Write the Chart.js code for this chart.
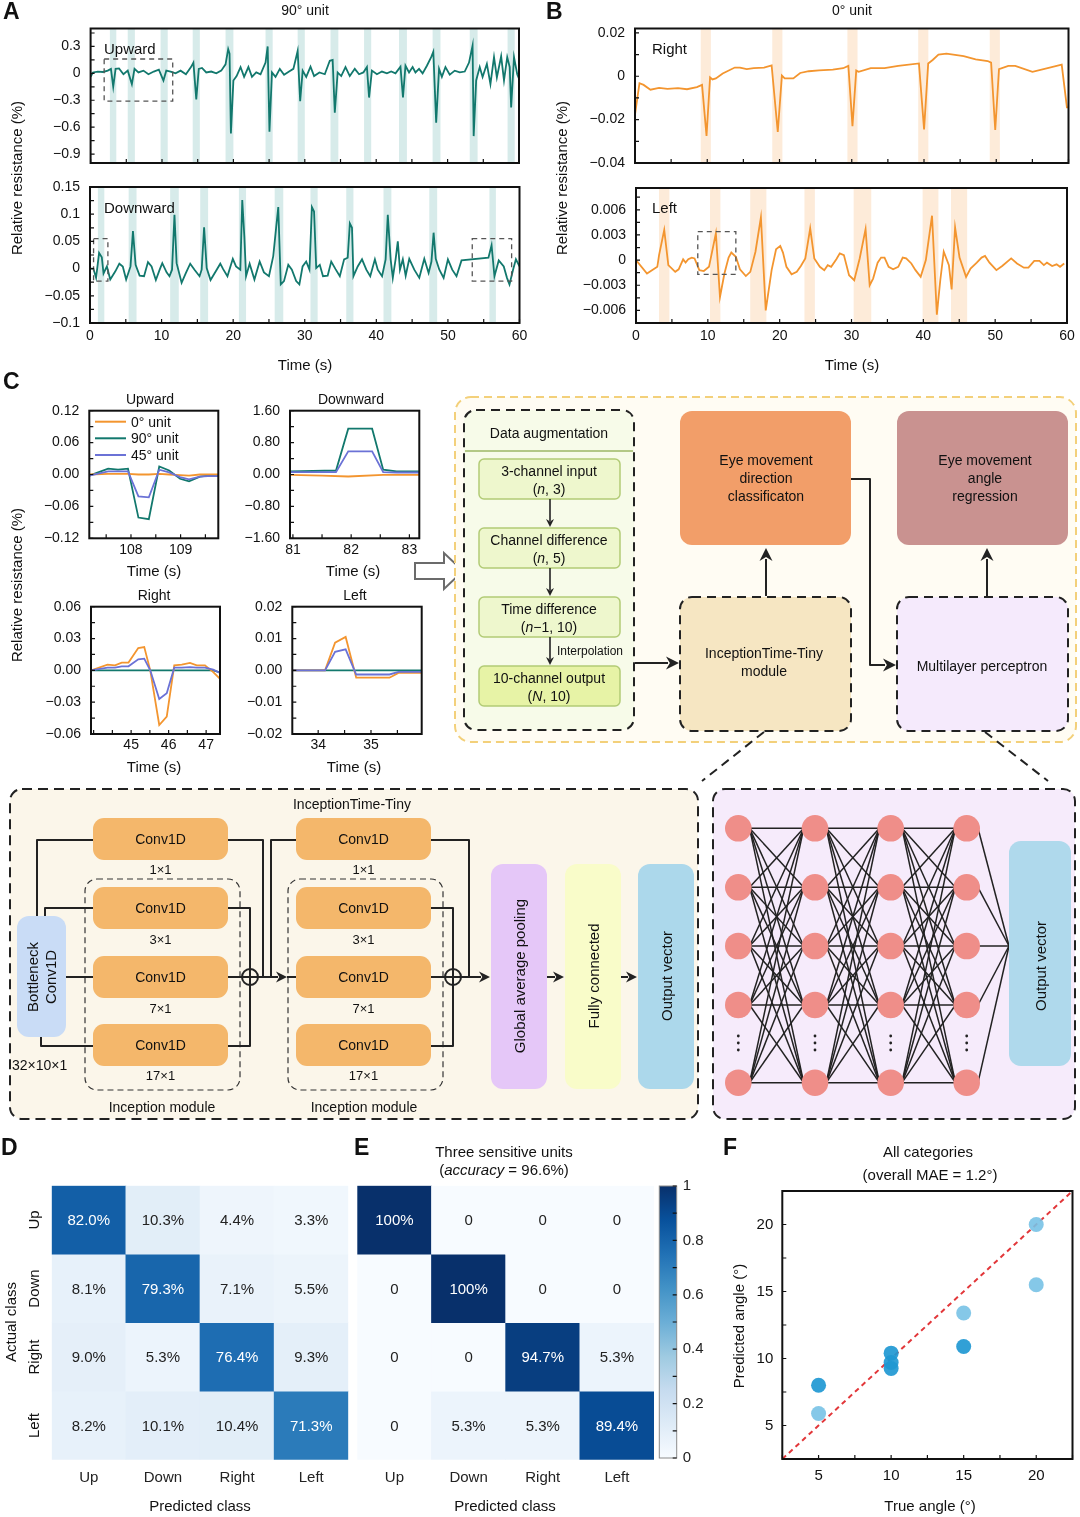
<!DOCTYPE html>
<html>
<head>
<meta charset="utf-8">
<script src="https://cdn.jsdelivr.net/npm/chart.js@4.4.1/dist/chart.umd.min.js"></script>
<style>
  body { margin: 0; width: 1080px; height: 1517px; position: relative; background: #fff; overflow: hidden;
         font-family: "Liberation Sans", Arial, sans-serif; }
  #fig { position: absolute; left: 0; top: 0; z-index: 2; pointer-events: none;
         font-family: "Liberation Sans", Arial, sans-serif; }
</style>
</head>
<body>
<svg id="fig" width="1080" height="1517" xmlns="http://www.w3.org/2000/svg"></svg>
<script>
// ---- DATA ----
// A: 90° unit, time (s) / relative resistance (%)
const upward90 = [[0,-0.04],[0.33,0.01],[1.0,0.02],[1.75,0.015],[2.4,0.03],[2.85,0.05],[3.17,-0.15],[3.5,0.05],[3.98,0.055],[4.6,-0.01],[5.2,0.03],[5.78,-0.12],[6.15,0.05],[6.7,0.01],[7.4,0.03],[8.1,-0.01],[8.85,0.02],[9.56,0.04],[10.2,-0.08],[10.6,0.03],[11.2,0.02],[11.9,0],[12.6,0.03],[13.35,-0.01],[14.06,0.07],[14.4,0.12],[14.8,-0.29],[15.15,0.05],[15.6,0.06],[16.2,0.01],[16.9,0.02],[17.6,0],[18.3,0.03],[18.9,0.1],[19.27,0.27],[19.46,0.22],[19.65,-0.67],[20.0,-0.08],[20.45,-0.03],[21.0,0.07],[21.5,-0.04],[22.1,0.07],[22.6,-0.04],[23.2,0.01],[23.8,-0.01],[24.5,0.12],[24.8,0.3],[25.05,-0.65],[25.4,0.01],[25.9,-0.04],[26.5,0.05],[27.1,-0.015],[27.8,0.02],[28.4,0.05],[29.0,0.25],[29.35,-0.31],[29.7,0.03],[30.2,-0.04],[30.8,0.075],[31.3,-0.03],[32.05,0.01],[32.8,-0.01],[33.5,0.14],[33.9,0.15],[34.2,-0.44],[34.6,0.01],[35.1,-0.03],[35.7,0.07],[36.3,-0.03],[37.0,0.05],[37.6,-0.01],[38.2,0.01],[38.7,0.07],[39.0,-0.27],[39.4,0.03],[40.1,-0.01],[40.8,0.02],[41.5,0],[42.1,0.02],[42.7,0],[43.4,0.075],[43.75,-0.27],[44.1,0.085],[44.6,0.01],[45.1,0.07],[45.5,0.01],[46.0,0.05],[46.5,0],[47.1,0.085],[47.7,0.18],[48.0,0.24],[48.4,-0.55],[48.8,0.05],[49.2,-0.04],[49.7,0.07],[50.3,-0.015],[51.0,0.03],[51.7,0.01],[52.4,0.02],[53.0,0.12],[53.5,0.31],[53.65,-0.7],[54.0,-0.08],[54.5,0.07],[54.9,-0.04],[55.5,0.105],[56.0,-0.12],[56.5,0.18],[56.9,-0.045],[57.5,0.19],[57.9,-0.08],[58.35,0.18],[58.7,0.07],[58.9,-0.38],[59.3,0.18],[59.75,-0.01],[60,-0.06]]
const downward90 = [[0,0],[0.47,0],[0.85,-0.017],[1.27,0.029],[1.65,0.021],[1.89,-0.009],[2.36,0.004],[2.83,-0.02],[3.54,-0.005],[4.1,0.009],[4.58,0.004],[5.05,-0.02],[5.66,0.004],[6.0,0.069],[6.37,0.007],[6.93,-0.013],[7.55,-0.014],[8.1,0.012],[8.6,0.004],[9.2,-0.021],[9.76,-0.001],[10.1,0.01],[10.7,-0.007],[11.1,-0.014],[11.46,-0.002],[11.8,0.099],[12.1,0.01],[12.8,-0.026],[13.4,-0.008],[14.0,0.009],[14.6,-0.002],[15.3,-0.014],[15.6,-0.002],[15.94,0.076],[16.3,0.001],[16.84,-0.021],[17.7,-0.002],[18.2,0.009],[18.6,-0.001],[19.2,-0.014],[19.95,0.018],[20.4,0.004],[21.0,-0.002],[21.27,0.126],[21.56,0.059],[21.8,-0.014],[22.3,0.009],[22.97,-0.02],[23.7,0.013],[24.3,-0.007],[25.0,-0.014],[25.6,0.023],[26.0,0.075],[26.3,0.113],[26.65,-0.029],[27.1,-0.023],[27.7,0.007],[28.2,-0.002],[28.8,-0.023],[29.25,-0.029],[29.7,0.004],[30.2,0.013],[30.66,-0.002],[31.0,0.113],[31.3,0.105],[31.6,0.001],[32.1,0.007],[32.55,-0.014],[33.2,-0.013],[33.7,0.013],[34.3,-0.001],[34.9,-0.014],[35.5,0.017],[36.0,0.02],[36.3,0.083],[36.6,0.075],[36.8,-0.014],[37.4,0.004],[38.0,0.017],[38.6,-0.002],[39.15,-0.014],[39.8,0.017],[40.2,-0.002],[40.8,-0.014],[41.3,0.017],[41.6,0.099],[42.0,0.017],[42.3,-0.017],[42.7,0.018],[43.0,0.05],[43.3,-0.002],[43.7,0.017],[44.1,-0.013],[44.6,0.018],[45.3,-0.002],[46.0,-0.017],[46.7,0.018],[47.3,-0.008],[47.7,0.013],[48.0,0.066],[48.3,0.018],[48.8,-0.002],[49.4,-0.017],[50.0,0.017],[50.6,-0.002],[51.2,-0.014],[51.9,0.015],[55.66,0.02],[56.1,0.043],[56.5,-0.014],[57.1,0.015],[57.8,0.004],[58.25,-0.017],[58.6,-0.029],[59.1,-0.002],[59.5,0.017],[60,0.004]]
const bandsUp = [[2.7,3.6],[5.2,6.2],[9.8,10.8],[14.3,15.3],[18.9,20.0],[24.5,25.5],[29.0,30.0],[33.6,34.7],[38.3,39.3],[43.2,44.3],[47.9,49.0],[53.1,54.2],[58.4,59.4]]
const bandsDown = [[1.1,2.0],[5.4,6.5],[11.2,12.4],[15.4,16.5],[20.8,21.8],[25.8,27.0],[30.8,31.8],[35.8,36.8],[41.0,42.1],[47.4,48.5],[55.8,56.7]]
const boxesUp = [[1.9,11.5,-0.31,0.16]]
const boxesDown = [[0.5,2.5,-0.023,0.055],[53.4,58.9,-0.023,0.055]]

// B: 0° unit
const right0 = [[0,-0.0177],[0.62,-0.0032],[1.19,-0.004],[2.14,-0.0062],[3.33,-0.0054],[4.5,-0.0058],[5.95,-0.0055],[7.2,-0.006],[8.57,-0.005],[9.28,-0.004],[9.9,-0.0275],[10.39,-0.0005],[10.72,-0.0015],[11.19,-0.001],[12.14,0.0013],[13.81,0.004],[14.52,0.004],[15.47,0.0033],[16.43,0.0037],[17.86,0.004],[18.91,0.005],[19.76,-0.0257],[20.33,0.0003],[20.72,-0.001],[21.91,-0.001],[22.86,0.0015],[24.05,0.0023],[25.47,0.0027],[27.38,0.003],[28.81,0.0037],[29.53,0.0048],[30.1,-0.023],[30.62,0.0026],[30.95,0.002],[32.63,0.0037],[34.54,0.0037],[36.43,0.0048],[39.3,0.0059],[40.01,-0.0245],[40.58,0.0059],[41.2,0.0075],[42.0,0.01],[43.1,0.0104],[45.49,0.0093],[47.15,0.0078],[48.82,0.007],[49.29,0.0063],[49.86,-0.0248],[50.38,0.0033],[51.67,0.0048],[52.63,0.0048],[55.01,0.002],[57.39,0.004],[59.06,0.0053],[59.78,-0.0144],[60,-0.0144]]
const left0 = [[0,0],[1.53,-0.0016],[2.97,-0.0008],[3.21,0.0006],[3.93,0.0036],[4.5,-0.0006],[5.46,-0.0014],[5.94,-0.0011],[6.56,0.0001],[6.9,-0.0003],[7.28,0.0001],[7.76,0.0003],[8.15,0.0002],[8.82,-0.0012],[9.44,-0.0013],[10.16,-0.0008],[11.12,0.0032],[11.69,-0.0044],[12.31,-0.0016],[12.89,0.0003],[13.27,0.0009],[13.9,0.0004],[14.47,-0.0011],[15.29,-0.0019],[15.91,-0.0014],[16.63,0.001],[17.39,0.0051],[18.06,-0.006],[18.88,-0.0012],[19.5,0.0013],[20.08,0.0017],[20.46,0.0009],[20.94,-0.0008],[21.66,-0.0017],[22.38,-0.0014],[22.95,-0.0007],[23.57,0.0002],[24.25,0.0038],[24.82,0.0002],[25.59,-0.0008],[26.21,-0.0012],[26.69,-0.0006],[27.17,-0.0008],[27.89,0.0001],[28.37,0.0008],[28.94,0.0006],[29.66,-0.0018],[30.38,-0.0024],[31.14,0.0002],[31.96,0.0037],[32.53,-0.003],[33.01,-0.0022],[33.64,-0.0003],[34.12,0.0003],[34.6,0.0003],[35.17,-0.0008],[35.79,-0.0011],[36.51,-0.0008],[37.13,0.0003],[37.61,0.0002],[38.33,-0.0004],[38.91,-0.0012],[39.63,-0.002],[40.35,0],[41.21,0.0053],[41.88,-0.0065],[42.36,-0.0024],[42.84,0.001],[43.56,-0.0006],[43.94,-0.0035],[44.42,0.0039],[45.04,0.0003],[45.95,-0.002],[46.57,-0.001],[47.44,-0.0003],[48.11,0.0003],[48.59,0.0005],[49.21,-0.0003],[50.17,-0.0012],[50.98,-0.0007],[52.23,0.0002],[53.04,-0.0004],[54.0,-0.0009],[54.63,-0.0009],[55.44,-0.0001],[56.16,-0.0001],[56.78,-0.0006],[57.21,-0.0003],[57.93,-0.0007],[58.55,-0.0005],[59.03,-0.0008],[59.61,-0.0004]]
const bandsRight = [[9.1,10.5],[19.0,20.4],[29.4,30.8],[39.2,40.6],[49.1,50.5]]
const bandsLeft = [[3.2,4.65],[10.3,11.75],[15.9,18.15],[23.45,24.9],[30.3,32.75],[39.9,42.1],[43.85,46.1]]
const boxesLeft = [[8.6,13.9,-0.0017,0.0034]]

// C: zoomed single movements, three units
const upw0 = [[107.16,0],[107.54,0.001],[107.74,0.001],[107.94,0.001],[108.15,0],[108.36,0],[108.57,0.001],[108.77,0],[108.99,-0.001],[109.17,-0.002],[109.39,0],[109.55,0],[109.76,0]]
const upw90 = [[107.16,-0.002],[107.54,0.011],[107.74,0.009],[107.94,0.011],[108.15,-0.081],[108.36,-0.084],[108.57,0.015],[108.77,0.0076],[108.99,-0.008],[109.17,-0.013],[109.39,-0.004],[109.55,-0.002],[109.76,-0.003]]
const upw45 = [[107.16,-0.002],[107.54,0.006],[107.74,0.006],[107.94,0.006],[108.15,-0.041],[108.36,-0.043],[108.57,0.009],[108.77,0.004],[108.99,-0.005],[109.17,-0.009],[109.39,-0.004],[109.55,-0.003],[109.76,-0.003]]
const dwn0 = [[80.95,-0.01],[81.5,-0.03],[81.95,-0.05],[82.55,-0.01],[83.17,-0.01]]
const dwn90 = [[80.95,0.08],[81.74,0.1],[81.95,1.15],[82.36,1.15],[82.55,0.12],[82.78,0.08],[83.17,0.08]]
const dwn45 = [[80.95,0.06],[81.74,0.06],[81.95,0.58],[82.36,0.58],[82.55,0.06],[82.78,0.05],[83.17,0.05]]
const rgt0 = [[43.93,0],[44.37,0.0054],[44.57,0.0047],[44.75,0.0073],[44.93,0.0073],[45.19,0.021],[45.35,0.022],[45.51,0],[45.75,-0.0515],[45.95,-0.0436],[46.15,0.0047],[46.35,0.0054],[46.57,0.007],[46.75,0.0047],[46.97,0.0047],[47.19,-0.0016],[47.37,-0.008]]
const rgt45 = [[43.93,0],[44.37,0.0025],[44.57,0.0025],[44.75,0.0038],[44.93,0.0038],[45.19,0.0104],[45.35,0.011],[45.51,0],[45.75,-0.027],[45.95,-0.0215],[46.15,0.0025],[46.35,0.0025],[46.57,0.003],[46.75,0.0025],[46.97,0.0025],[47.19,0.0006],[47.37,-0.0025]]
const rgt90 = [[43.93,0],[47.19,0],[47.37,-0.002]]
const lft0 = [[33.51,0],[34.13,0],[34.32,0.0087],[34.52,0.0105],[34.72,-0.0023],[34.92,-0.0023],[35.35,-0.0023],[35.52,-0.0008],[35.96,-0.0008]]
const lft45 = [[33.51,0],[34.13,0],[34.32,0.0058],[34.52,0.0066],[34.72,-0.0013],[35.35,-0.0013],[35.52,-0.0005],[35.96,-0.0005]]
const lft90 = [[33.51,0],[35.96,0]]

// D / E: confusion matrices (%), rows = actual, cols = predicted
const classes = ['Up', 'Down', 'Right', 'Left']
const confAll = [[82.0,10.3,4.4,3.3],[8.1,79.3,7.1,5.5],[9.0,5.3,76.4,9.3],[8.2,10.1,10.4,71.3]]
const confThree = [[100,0,0,0],[0,100,0,0],[0,0,94.7,5.3],[0,5.3,5.3,89.4]]
const cbarTicks = [0,0.1,0.2,0.3,0.4,0.5,0.6,0.7,0.8,0.9,1]
const cbarLabels = [0,0.2,0.4,0.6,0.8,1]

// F: angle regression
const predSingle = [[5,5.9],[15,13.4],[20,20.0],[20,15.5]]
const predStacked = [[5,8.0],[10,10.4],[10,9.7],[10,9.25],[15,10.9]]
const angleTicks = [2.5,5,7.5,10,12.5,15,17.5,20,22.5]
const angleLabels = [5,10,15,20]

// ---- tick arrays ----
const tSec = [0,5,10,15,20,25,30,35,40,45,50,55,60]
const tSecLab = [0,10,20,30,40,50,60]

// ---- ESTILOS ----
const FONT = '"Liberation Sans", Arial, sans-serif'
const TEAL = '#12786d', ORANGE = '#f3952f', VIOLET = '#6b72d6'
const BLUES = ['#f7fbff','#deebf7','#c6dbef','#9ecae1','#6baed6','#4292c6','#2171b5','#08519c','#08306b']
Chart.defaults.font.family = FONT
Chart.defaults.font.size = 14
Chart.defaults.color = '#111'

function blues(t) {
  t = Math.max(0, Math.min(1, t))
  const p = t * (BLUES.length - 1), i = Math.min(Math.floor(p), BLUES.length - 2), f = p - i
  const a = BLUES[i], b = BLUES[i + 1]
  const c = k => Math.round(parseInt(a.substr(k, 2), 16) * (1 - f) + parseInt(b.substr(k, 2), 16) * f)
  return `rgb(${c(1)},${c(3)},${c(5)})`
}
const xy = arr => arr.map(([x, y]) => ({x, y}))
const minus = s => s.replace('-', '\u2212')
const near = (list, v) => list.some(m => Math.abs(m - v) < 1e-9)

// ---- canvas helper ----
function mkCanvas(l, t, r, b) {
  const c = document.createElement('canvas')
  c.width = r - l; c.height = b - t
  c.style.cssText = `position:absolute;left:${l}px;top:${t}px;width:${r - l}px;height:${b - t}px;z-index:1`
  document.body.appendChild(c)
  return c
}

// ---- plugin: bands, dashed boxes, frame, inner ticks, cell labels ----
function deco(o) {
  return {
    id: 'deco',
    beforeDatasetsDraw(chart) {
      if (!o.bands) return
      const {ctx, chartArea: a, scales: {x}} = chart
      ctx.save()
      ctx.fillStyle = o.bandColor
      o.bands.forEach(([s, e]) => {
        const x0 = x.getPixelForValue(s), x1 = x.getPixelForValue(e)
        ctx.fillRect(x0, a.top, x1 - x0, a.bottom - a.top)
      })
      ctx.restore()
    },
    afterDatasetsDraw(chart) {
      const {ctx, scales: {x, y}} = chart
      ctx.save()
      ;(o.boxes || []).forEach(([x0, x1, y0, y1]) => {
        ctx.strokeStyle = '#555'; ctx.lineWidth = 1.3; ctx.setLineDash([5, 4])
        const px0 = x.getPixelForValue(x0), px1 = x.getPixelForValue(x1)
        const py0 = y.getPixelForValue(y0), py1 = y.getPixelForValue(y1)
        ctx.strokeRect(px0, py1, px1 - px0, py0 - py1)
      })
      if (o.cells) {
        ctx.setLineDash([])
        ctx.font = '15px ' + FONT
        ctx.textAlign = 'center'; ctx.textBaseline = 'middle'
        o.cells.forEach((row, r) => {
          chart.getDatasetMeta(r).data.forEach((bar, c) => {
            const v = row[c]
            ctx.fillStyle = v > 50 ? '#fff' : '#222'
            ctx.fillText(o.fmt(v), bar.x, (bar.y + bar.base) / 2 + 1)
          })
        })
      }
      ctx.restore()
    },
    afterDraw(chart) {
      if (!o.frame) return
      const {ctx, chartArea: a, scales: {x, y}} = chart
      ctx.save()
      ctx.strokeStyle = o.frame; ctx.lineWidth = o.frameWidth || 2
      ctx.strokeRect(a.left, a.top, a.right - a.left, a.bottom - a.top)
      ctx.lineWidth = 1.2; ctx.strokeStyle = '#111'
      ctx.beginPath()
      if (o.xTicks) x.ticks.forEach(t => {
        const p = x.getPixelForValue(t.value)
        ctx.moveTo(p, a.bottom); ctx.lineTo(p, a.bottom - 4)
      })
      if (o.yTicks) y.ticks.forEach(t => {
        const p = y.getPixelForValue(t.value)
        const e = o.yTicks === 'right' ? a.right : a.left, d = o.yTicks === 'right' ? -4 : 4
        ctx.moveTo(e, p); ctx.lineTo(e + d, p)
      })
      ctx.stroke()
      ctx.restore()
    }
  }
}

// ---- linear axis ----
function linAxis(min, max, ticks, major, fmt, show, pad, size) {
  return {
    type: 'linear', min, max,
    grid: {display: false, drawTicks: false}, border: {display: false},
    afterBuildTicks: s => { s.ticks = ticks.map(v => ({value: v})) },
    ticks: {display: show, padding: pad, autoSkip: false, maxRotation: 0, minRotation: 0,
            font: {size: size || 14}, callback: v => near(major, v) ? fmt(v) : ''}
  }
}

// ---- generic chart at fixed plot area ----
function plot(box, area, cfg) {
  const [bl, bt, br, bb] = box, [al, at, ar, ab] = area
  return new Chart(mkCanvas(bl, bt, br, bb), {
    type: cfg.type || 'line',
    data: {labels: cfg.labels, datasets: cfg.datasets},
    options: {
      responsive: false, animation: false, events: [],
      layout: {padding: {left: 0, top: at - bt, right: br - ar, bottom: 0}},
      plugins: {legend: {display: false}, tooltip: {enabled: false}},
      scales: {
        x: {...cfg.x, afterFit: s => { s.height = bb - ab; s.paddingLeft = 0; s.paddingRight = 0 }},
        y: {...cfg.y, afterFit: s => { s.width = al - bl; s.paddingTop = 0; s.paddingBottom = 0 }}
      }
    },
    plugins: [deco(cfg.deco || {})]
  })
}
const lineDs = (pts, color, w) => ({data: xy(pts), borderColor: color, borderWidth: w || 1.8, pointRadius: 0, tension: 0, fill: false})

const fmtA = v => minus(String(+v.toFixed(4)))
const fmt2 = v => minus(v.toFixed(2))
const fmtInt = v => String(v)

// ---- PANEL A ----
plot([40, 20, 526, 170], [90.6, 28.5, 519, 163], {
  datasets: [lineDs(upward90, TEAL)],
  x: linAxis(0, 60, tSec, tSecLab, fmtInt, false, 5),
  y: linAxis(-1.0, 0.5, [-0.9,-0.75,-0.6,-0.45,-0.3,-0.15,0,0.15,0.3,0.45], [-0.9,-0.6,-0.3,0,0.3], fmtA, true, 10),
  deco: {bands: bandsUp, bandColor: '#d7ebea', boxes: boxesUp, frame: '#111', xTicks: true, yTicks: 'left'}
})
plot([40, 180, 530, 352], [90, 187, 519.5, 323], {
  datasets: [lineDs(downward90, TEAL)],
  x: linAxis(0, 60, tSec, tSecLab, fmtInt, true, 5),
  y: linAxis(-0.1, 0.15, [-0.1,-0.075,-0.05,-0.025,0,0.025,0.05,0.075,0.1,0.125,0.15], [-0.1,-0.05,0,0.05,0.1,0.15], fmtA, true, 10),
  deco: {bands: bandsDown, bandColor: '#d7ebea', boxes: boxesDown, frame: '#111', xTicks: true, yTicks: 'left'}
})

// ---- PANEL B ----
plot([575, 20, 1076, 170], [635, 28.5, 1068.5, 163], {
  datasets: [lineDs(right0, ORANGE)],
  x: linAxis(0, 60, tSec, tSecLab, fmtInt, false, 5),
  y: linAxis(-0.04, 0.022, [-0.04,-0.03,-0.02,-0.01,0,0.01,0.02], [-0.04,-0.02,0,0.02], fmtA, true, 10),
  deco: {bands: bandsRight, bandColor: '#fdebd9', frame: '#111', xTicks: true, yTicks: 'left'}
})
plot([575, 180, 1078, 352], [636, 188, 1067, 323], {
  datasets: [lineDs(left0, ORANGE)],
  x: linAxis(0, 60, tSec, tSecLab, fmtInt, true, 5),
  y: linAxis(-0.0075, 0.0086, [-0.0075,-0.006,-0.0045,-0.003,-0.0015,0,0.0015,0.003,0.0045,0.006,0.0075], [-0.006,-0.003,0,0.003,0.006], fmtA, true, 10),
  deco: {bands: bandsLeft, bandColor: '#fdebd9', boxes: boxesLeft, frame: '#111', xTicks: true, yTicks: 'left'}
})

// ---- PANEL C (small plots) ----
const cFrame = {frame: '#111', xTicks: true, yTicks: 'left'}
plot([40, 400, 226, 562], [89.3, 410.7, 218.3, 538.3], {
  datasets: [lineDs(upw45, VIOLET), lineDs(upw0, ORANGE), lineDs(upw90, TEAL)],
  x: linAxis(107.16, 109.76, [107.5,108,108.5,109,109.5], [108,109], fmtInt, true, 3),
  y: linAxis(-0.12, 0.12, [-0.12,-0.09,-0.06,-0.03,0,0.03,0.06,0.09,0.12], [-0.12,-0.06,0,0.06,0.12], fmt2, true, 10),
  deco: cFrame
})
plot([240, 400, 428, 562], [290, 410.7, 419.3, 538.3], {
  datasets: [lineDs(dwn45, VIOLET), lineDs(dwn0, ORANGE), lineDs(dwn90, TEAL)],
  x: linAxis(80.95, 83.17, [81,81.5,82,82.5,83], [81,82,83], fmtInt, true, 3),
  y: linAxis(-1.6, 1.6, [-1.6,-1.2,-0.8,-0.4,0,0.4,0.8,1.2,1.6], [-1.6,-0.8,0,0.8,1.6], fmt2, true, 10),
  deco: cFrame
})
plot([40, 596, 228, 758], [91, 606.7, 220, 734], {
  datasets: [lineDs(rgt45, VIOLET), lineDs(rgt0, ORANGE), lineDs(rgt90, TEAL)],
  x: linAxis(43.93, 47.37, [44,44.5,45,45.5,46,46.5,47], [45,46,47], fmtInt, true, 3),
  y: linAxis(-0.06, 0.06, [-0.06,-0.045,-0.03,-0.015,0,0.015,0.03,0.045,0.06], [-0.06,-0.03,0,0.03,0.06], fmt2, true, 10),
  deco: cFrame
})
plot([240, 596, 432, 758], [292.3, 606.7, 421.7, 734], {
  datasets: [lineDs(lft45, VIOLET), lineDs(lft0, ORANGE), lineDs(lft90, TEAL)],
  x: linAxis(33.51, 35.96, [34,34.5,35,35.5], [34,35], fmtInt, true, 3),
  y: linAxis(-0.02, 0.02, [-0.02,-0.015,-0.01,-0.005,0,0.005,0.01,0.015,0.02], [-0.02,-0.01,0,0.01,0.02], fmt2, true, 10),
  deco: cFrame
})

// ---- PANEL D / E heatmaps ----
function heat(box, area, conf, fmt) {
  plot(box, area, {
    type: 'bar', labels: classes,
    datasets: conf.map((row, r) => ({
      data: row.map(() => [r, r + 1]),
      backgroundColor: row.map(v => blues(v / 100)),
      borderWidth: 0, grouped: false, barPercentage: 1, categoryPercentage: 1
    })),
    x: {type: 'category', offset: true, grid: {display: false, drawTicks: false}, border: {display: false},
        ticks: {padding: 9, font: {size: 15}, color: '#222'}},
    y: {type: 'linear', min: 0, max: 4, reverse: true, grid: {display: false, drawTicks: false},
        border: {display: false}, ticks: {display: false}},
    deco: {cells: conf, fmt}
  })
}
heat([40, 1176, 352, 1500], [51.7, 1185.7, 348.3, 1459.7], confAll, v => v.toFixed(1) + '%')
heat([352, 1176, 656, 1500], [357.3, 1185.7, 654, 1459.7], confThree,
     v => v === 0 ? '0' : v === 100 ? '100%' : v.toFixed(1) + '%')

// colorbar
new Chart(mkCanvas(654, 1176, 712, 1472), {
  type: 'bar',
  data: {labels: [''], datasets: [{
    data: [[0, 1]], barPercentage: 1, categoryPercentage: 1, borderWidth: 0,
    backgroundColor: c => {
      const a = c.chart.chartArea
      if (!a) return BLUES[4]
      const g = c.chart.ctx.createLinearGradient(0, a.bottom, 0, a.top)
      BLUES.forEach((col, i) => g.addColorStop(i / (BLUES.length - 1), col))
      return g
    }
  }]},
  options: {
    responsive: false, animation: false, events: [],
    layout: {padding: {left: 5.3, top: 10, right: 0, bottom: 14}},
    plugins: {legend: {display: false}, tooltip: {enabled: false}},
    scales: {
      x: {display: false},
      y: {position: 'right', min: 0, max: 1, grid: {display: false, drawTicks: false}, border: {display: false},
          afterBuildTicks: s => { s.ticks = cbarTicks.map(v => ({value: v})) },
          ticks: {padding: 6, autoSkip: false, font: {size: 15}, color: '#222',
                  callback: v => near(cbarLabels, v) ? String(+v.toFixed(1)) : ''},
          afterFit: s => { s.width = 712 - 676.7; s.paddingTop = 0; s.paddingBottom = 0 }}
    }
  },
  plugins: [deco({frame: '#8a8a8a', frameWidth: 1, yTicks: 'right'})]
})

// ---- PANEL F ----
plot([740, 1180, 1080, 1495], [782.3, 1191, 1076.7, 1459], {
  type: 'scatter',
  datasets: [
    {data: xy(predStacked), backgroundColor: 'rgba(32,152,210,0.92)', pointRadius: 7.5, borderWidth: 0},
    {data: xy(predSingle), backgroundColor: 'rgba(120,194,230,0.9)', pointRadius: 7.5, borderWidth: 0},
    {type: 'line', data: xy([[2.5,2.5],[22.5,22.5]]), borderColor: '#e2373a', borderWidth: 2,
     borderDash: [5, 4], pointRadius: 0, showLine: true, fill: false}
  ],
  x: linAxis(2.5, 22.5, angleTicks, angleLabels, fmtInt, true, 8, 15),
  y: linAxis(2.5, 22.5, angleTicks, angleLabels, fmtInt, true, 9, 15),
  deco: {frame: '#111', xTicks: true, yTicks: 'left'}
})

// ---- SVG: texts and diagrams ----
const NS = 'http://www.w3.org/2000/svg'
const svg = document.getElementById('fig')
function el(tag, attrs, html) {
  const e = document.createElementNS(NS, tag)
  for (const k in attrs) e.setAttribute(k, attrs[k])
  if (html !== undefined) e.innerHTML = html
  svg.appendChild(e)
  return e
}
function txt(x, y, s, o = {}) {
  const a = {x, y, 'font-size': o.size || 14, 'text-anchor': o.anchor || 'middle',
             'dominant-baseline': 'central', fill: o.fill || '#111'}
  if (o.weight) a['font-weight'] = o.weight
  if (o.rot) a.transform = `rotate(${o.rot} ${x} ${y})`
  return el('text', a, s)
}
const pts = p => p.map(q => q.join(',')).join(' ')
function pline(p, o = {}) {
  el('polyline', {points: pts(p), fill: 'none', stroke: o.stroke || '#222', 'stroke-width': o.w || 2,
                  'stroke-dasharray': o.dash || 'none', 'stroke-linejoin': 'round'})
}
function arrow(p, head = 10, w = 2) {
  const n = p.length, [xa, ya] = p[n - 2], [xb, yb] = p[n - 1]
  const ang = Math.atan2(yb - ya, xb - xa), c = Math.cos(ang), s = Math.sin(ang)
  const bx = xb - head * c, by = yb - head * s
  pline(p.slice(0, n - 1).concat([[bx + 2 * c, by + 2 * s]]), {w})
  const hw = head * 0.5
  el('polygon', {points: pts([[xb, yb], [bx - hw * s, by + hw * c], [xb - head * 0.7 * c, yb - head * 0.7 * s], [bx + hw * s, by - hw * c]]), fill: '#222'})
}
function rect(x, y, w, h, o = {}) {
  el('rect', {x, y, width: w, height: h, rx: o.rx === undefined ? 10 : o.rx, fill: o.fill || 'none',
              stroke: o.stroke || 'none', 'stroke-width': o.w || 2, 'stroke-dasharray': o.dash || 'none'})
}

// panel letters
;[['A', 3, 11], ['B', 546, 11], ['C', 3, 381], ['D', 1, 1147], ['E', 354, 1147], ['F', 723, 1147]]
  .forEach(([s, x, y]) => txt(x, y, s, {size: 23, weight: 'bold', anchor: 'start'}))

// A / B labels
txt(305, 10, '90° unit')
txt(852, 10, '0° unit')
txt(104, 48, 'Upward', {size: 15, anchor: 'start'})
txt(104, 207, 'Downward', {size: 15, anchor: 'start'})
txt(652, 48, 'Right', {size: 15, anchor: 'start'})
txt(652, 207, 'Left', {size: 15, anchor: 'start'})
txt(305, 364, 'Time (s)', {size: 15})
txt(852, 364, 'Time (s)', {size: 15})
txt(16, 178, 'Relative resistance (%)', {size: 15, rot: -90})
txt(561, 178, 'Relative resistance (%)', {size: 15, rot: -90})

// C small plot labels
txt(150, 399, 'Upward'); txt(351, 399, 'Downward'); txt(154, 595, 'Right'); txt(355, 595, 'Left')
txt(154, 570, 'Time (s)', {size: 15}); txt(353, 570, 'Time (s)', {size: 15})
txt(154, 766, 'Time (s)', {size: 15}); txt(354, 766, 'Time (s)', {size: 15})
txt(16, 585, 'Relative resistance (%)', {size: 15, rot: -90})
;[[ORANGE, '0° unit', 421.7], [TEAL, '90° unit', 438.3], [VIOLET, '45° unit', 455]].forEach(([c, s, y]) => {
  pline([[95, y], [126, y]], {stroke: c, w: 2})
  txt(131, y, s, {anchor: 'start'})
})
// hollow arrow
el('path', {d: 'M415,563 H444 V553 L463,571 L444,589 V579 H415 Z', fill: '#fff', stroke: '#6b6b6b', 'stroke-width': 2})

// flowchart
rect(455, 397, 621, 345, {rx: 16, fill: '#fffcf3', stroke: '#f3d07a', dash: '8 5'})
rect(464, 410, 170, 320, {rx: 12, fill: '#f7fbe9', stroke: '#222', dash: '9 6'})
txt(549, 433, 'Data augmentation')
pline([[465, 451], [633, 451]], {stroke: '#b3c886', w: 2})
const augBoxes = [[459, '3-channel input', '(<tspan font-style="italic">n</tspan>, 3)', '#eef7cd'],
                  [528, 'Channel difference', '(<tspan font-style="italic">n</tspan>, 5)', '#eef7cd'],
                  [597, 'Time difference', '(<tspan font-style="italic">n</tspan>\u22121, 10)', '#eef7cd'],
                  [666, '10-channel output', '(<tspan font-style="italic">N</tspan>, 10)', '#e7f3a6']]
augBoxes.forEach(([y, a, b, f]) => {
  rect(479, y, 141, 40, {rx: 5, fill: f, stroke: '#b2cb76', w: 1.5})
  txt(549, y + 12, a); txt(549, y + 30, b)
})
arrow([[550, 499], [550, 527]], 8, 1.6)
arrow([[550, 568], [550, 596]], 8, 1.6)
arrow([[550, 637], [550, 665]], 8, 1.6)
txt(557, 651, 'Interpolation', {size: 12, anchor: 'start'})
arrow([[635, 663], [679, 663]], 13)
rect(680, 411, 171, 134, {rx: 12, fill: '#f29e69'})
txt(766, 460, 'Eye movement'); txt(766, 478, 'direction'); txt(766, 496, 'classificaton')
rect(897, 411, 171, 134, {rx: 12, fill: '#c99290'})
txt(985, 460, 'Eye movement'); txt(985, 478, 'angle'); txt(985, 496, 'regression')
rect(680, 597, 171, 134, {rx: 12, fill: '#f6e6c2', stroke: '#222', dash: '9 6'})
txt(764, 653, 'InceptionTime-Tiny'); txt(764, 671, 'module')
rect(897, 597, 171, 134, {rx: 12, fill: '#f5eafc', stroke: '#222', dash: '9 6'})
txt(982, 666, 'Multilayer perceptron')
arrow([[766, 596], [766, 548]], 13)
arrow([[987, 596], [987, 548]], 13)
arrow([[851, 479], [870, 479], [870, 665], [896, 665]], 13)
pline([[764, 732], [702, 781]], {dash: '9 6'})
pline([[985, 732], [1048, 781]], {dash: '9 6'})

// InceptionTime-Tiny
rect(10, 789, 688, 330, {rx: 12, fill: '#fbf6ea', stroke: '#222', dash: '10 6'})
txt(352, 804, 'InceptionTime-Tiny')
const convRows = [[818, '1\u00d71', 869], [887, '3\u00d71', 939], [956, '7\u00d71', 1008], [1024, '17\u00d71', 1075]]
;[85, 288].forEach(mx => rect(mx, 879, 155, 211, {rx: 12, stroke: '#333', w: 1.2, dash: '6 4'}))
;[93, 296].forEach(cx => convRows.forEach(([y, s, ly]) => {
  rect(cx, y, 135, 42, {rx: 11, fill: '#f4b76b'})
  txt(cx + 67.5, y + 21, 'Conv1D')
  txt(cx + 67.5, ly, s, {size: 13})
}))
txt(162, 1107, 'Inception module'); txt(364, 1107, 'Inception module')
rect(17, 916, 49, 121, {rx: 12, fill: '#c9dcf6'})
txt(32, 977, 'Bottleneck', {size: 15, rot: -90}); txt(50, 977, 'Conv1D', {size: 15, rot: -90})
txt(12, 1065, '32\u00d710\u00d71', {anchor: 'start'})
pline([[37, 916], [37, 840], [93, 840]]); pline([[45, 916], [45, 908], [93, 908]])
pline([[66, 977], [93, 977]]); pline([[41, 1037], [41, 1046], [93, 1046]])
function merge(cx, px, topx) {
  pline([[cx + 135, 840], [topx, 840], [topx, 977]])
  pline([[cx + 135, 908], [px, 908], [px, 969]])
  pline([[cx + 135, 1046], [px, 1046], [px, 985]])
  pline([[cx + 135, 977], [px - 8, 977]])
  el('circle', {cx: px, cy: 977, r: 8, fill: 'none', stroke: '#222', 'stroke-width': 2})
  pline([[px - 8, 977], [px + 8, 977]]); pline([[px, 969], [px, 985]])
}
merge(93, 250, 263); merge(296, 453, 469)
arrow([[258, 977], [287, 977]], 11); pline([[287, 977], [296, 977]])
pline([[271, 977], [271, 840], [296, 840]])
arrow([[461, 977], [490, 977]], 11)
arrow([[547, 977], [564, 977]], 11)
arrow([[621, 977], [637, 977]], 11)
rect(491, 864, 56, 225, {rx: 12, fill: '#e5c7f8'}); txt(519, 976, 'Global average pooling', {size: 15, rot: -90})
rect(565, 864, 56, 225, {rx: 12, fill: '#f9fcc9'}); txt(593, 976, 'Fully connected', {size: 15, rot: -90})
rect(638, 864, 56, 225, {rx: 12, fill: '#acd8eb'}); txt(666, 976, 'Output vector', {size: 15, rot: -90})

// multilayer perceptron
rect(713, 789, 362, 330, {rx: 12, fill: '#f6ebfb', stroke: '#222', dash: '10 6'})
const nodeX = [738.3, 815, 890.7, 966.7], nodeY = [828.3, 887.3, 946, 1005, 1082.7], R = 13.3
for (let i = 0; i < 3; i++) nodeY.forEach(ya => nodeY.forEach(yb =>
  pline([[nodeX[i] + R - 2, ya], [nodeX[i + 1] - R + 2, yb]], {w: 1.5})))
nodeY.forEach(y => pline([[nodeX[3] + R - 2, y], [1009, 946]], {w: 1.5}))
nodeX.forEach(x => {
  nodeY.forEach(y => el('circle', {cx: x, cy: y, r: R, fill: '#ef8e89'}))
  ;[1036, 1043, 1050].forEach(y => el('circle', {cx: x, cy: y, r: 1.4, fill: '#222'}))
})
rect(1009, 841, 62, 225, {rx: 12, fill: '#afd9ec'})
txt(1040, 966, 'Output vector', {size: 15, rot: -90})

// D / E / F labels
classes.forEach((c, i) => txt(33, 1220 + i * 68.5, c, {size: 15, rot: -90}))
txt(10, 1322, 'Actual class', {size: 15, rot: -90})
txt(200, 1505, 'Predicted class', {size: 15})
txt(504, 1151, 'Three sensitive units', {size: 15})
txt(504, 1169, '(<tspan font-style="italic">accuracy</tspan> = 96.6%)', {size: 15})
txt(505, 1505, 'Predicted class', {size: 15})
txt(928, 1151, 'All categories', {size: 15})
txt(930, 1174, '(overall MAE = 1.2°)', {size: 15})
txt(930, 1505, 'True angle (°)', {size: 15})
txt(738, 1326, 'Predicted angle (°)', {size: 15, rot: -90})
</script>
</body>
</html>
